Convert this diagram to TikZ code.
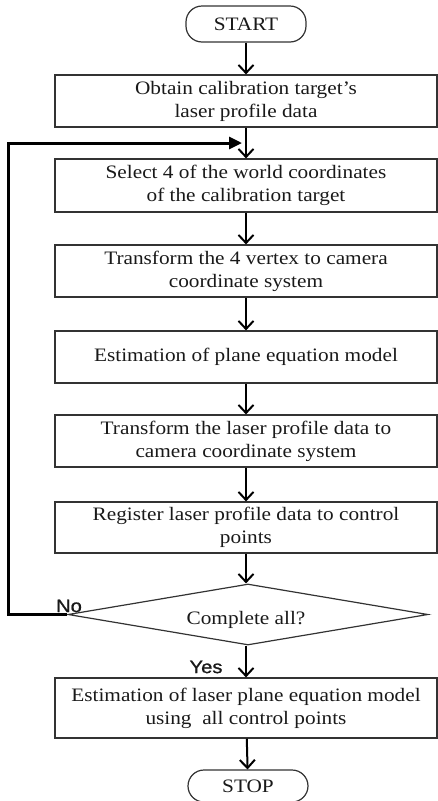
\documentclass[tikz,border=0pt]{standalone}
\usepackage{fontspec}
\setmainfont{Liberation Serif}[FakeStretch=1.12]
\newfontfamily\labelfont{Liberation Sans}[FakeStretch=1.12,FakeBold=1]
\usetikzlibrary{arrows.meta,shapes.geometric}
\begin{document}
\begin{tikzpicture}[x=1pt,y=-1pt,
  txt/.style={font=\fontsize{19}{23}\selectfont, text=black!90},
  box/.style={txt, draw=black!80, line width=1.2pt, rectangle, minimum width=382pt, minimum height=52pt, inner sep=0pt, align=center},
  term/.style={txt, draw=black!80, line width=1.2pt, rectangle, rounded corners=16pt, minimum width=120pt, minimum height=36pt, inner sep=0pt},
  dec/.style={draw=black!80, line width=1.2pt, diamond, minimum width=360pt, minimum height=61pt, inner sep=0pt},
  flow/.style={line width=2pt, -{Straight Barb[length=8pt,width=15pt,line width=2pt]}},
  backloop/.style={line width=3pt, -{Triangle[length=13pt,width=12pt]}},
  lab/.style={font=\labelfont\fontsize{18}{20}\selectfont, text=black!90, inner sep=0pt}
]
\useasboundingbox (0,0) rectangle (437,801);
\node[term] (start) at (246,24) {START};
\node[box] (b1) at (246,101) {Obtain calibration target's\\laser profile data};
\node[box, minimum height=53pt] (b2) at (246,185.5) {Select 4 of the world coordinates\\of the calibration target};
\node[box] (b3) at (246,271) {Transform the 4 vertex to camera\\coordinate system};
\node[box] (b4) at (246,357) {Estimation of plane equation model};
\node[box] (b5) at (246,441) {Transform the laser profile data to\\camera coordinate system};
\node[box, minimum height=51pt] (b6) at (246,527.5) {Register laser profile data to control\\points};
\node[dec] (d) at (248,614.5) {};
\node[txt] (dt) at (246,620) {Complete all?};
\node[box, minimum height=60pt] (b7) at (246,708) {Estimation of laser plane equation model\\using \ all control points};
\node[term, minimum height=32pt] (stop) at (248,786) {STOP};
\node[lab] (no) at (69,606) {No};
\node[lab] (yes) at (206,667) {Yes};
\coordinate (lc) at (8,143);
\coordinate (lt) at (242,143);
\draw[flow] (start) -- (b1);
\draw[flow] (b1) -- (b2);
\draw[flow] (b2) -- (b3);
\draw[flow] (b3) -- (b4);
\draw[flow] (b4) -- (b5);
\draw[flow] (b5) -- (b6);
\draw[flow] (b6.south) -- (b6.south |- d.north);
\draw[flow] (b7.north |- d.south) -- (b7);
\draw[flow] (b7) -- (stop);
\draw[backloop] (d.west) -| (lc) -- (lt);
\end{tikzpicture}
\end{document}
